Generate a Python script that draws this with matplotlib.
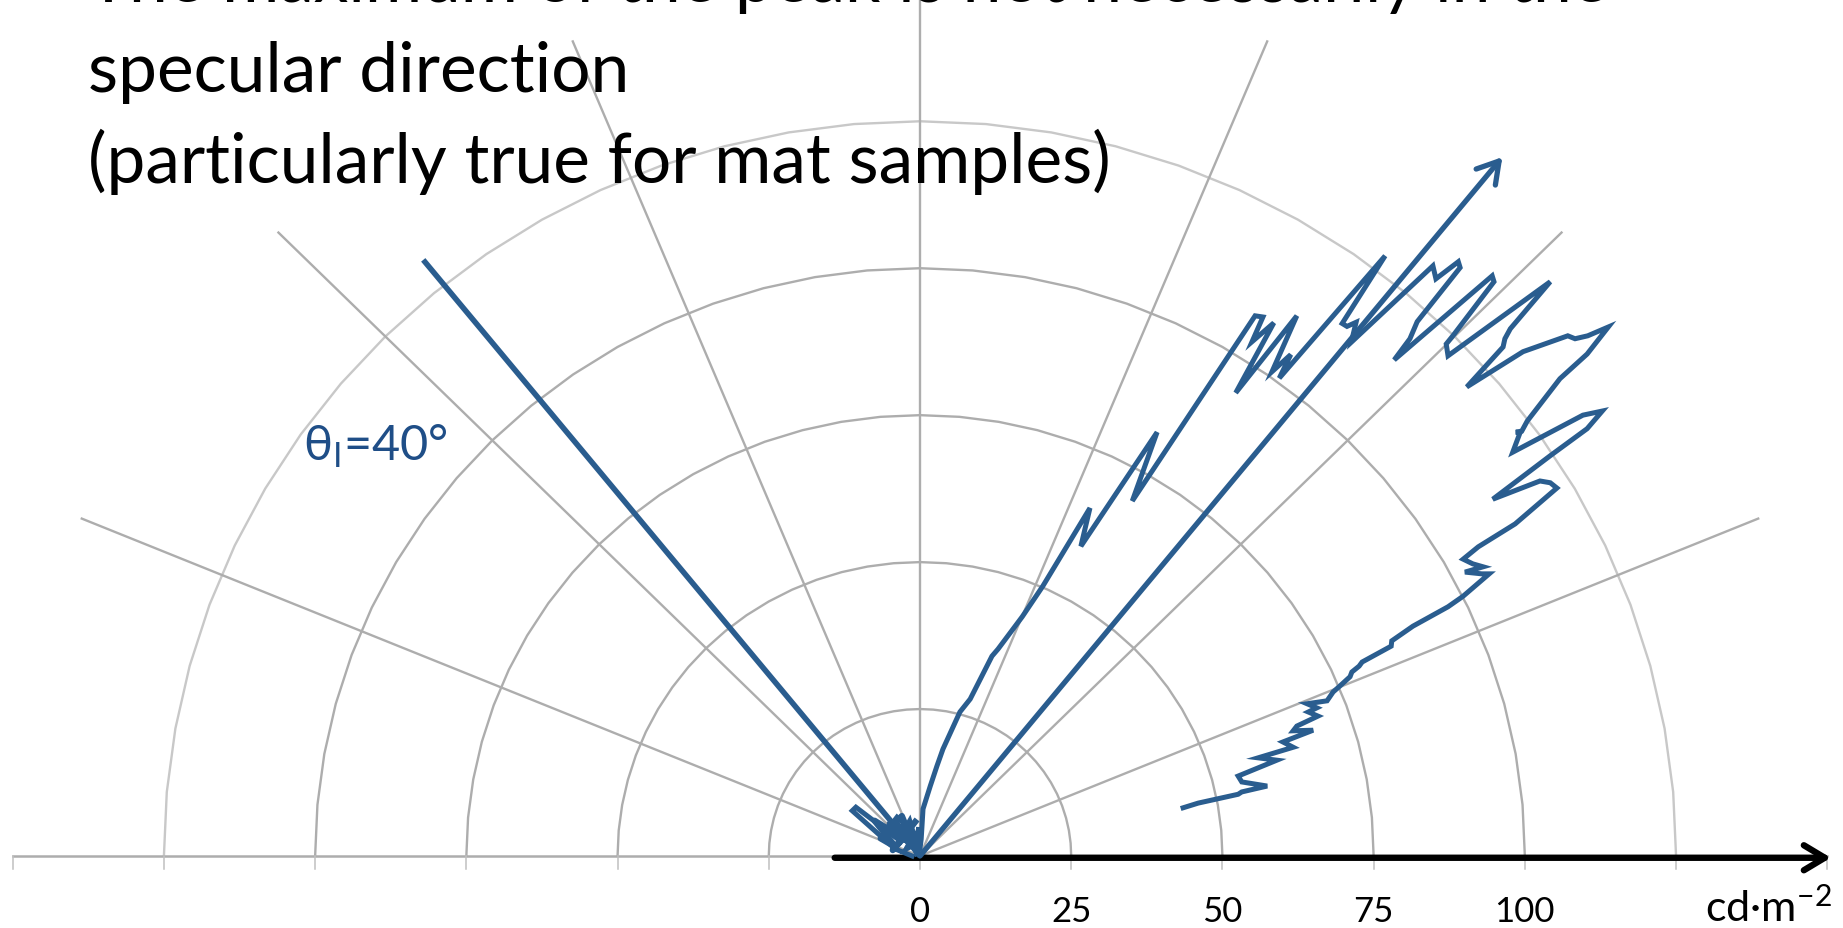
import numpy as np
import matplotlib
matplotlib.use('Agg')
import matplotlib.pyplot as plt

plt.rcParams['font.family'] = ['Lato', 'DejaVu Sans']
plt.rcParams['mathtext.fontset'] = 'dejavusans'
plt.rcParams['mathtext.default'] = 'regular'

# polar grid of the goniometric chart (cd.m-2)
ringValues = [25, 50, 75, 100, 125]
spokeAngles = [22.5, 45, 67.5, 90, 112.5, 135, 157.5]
tickLabels = [0, 25, 50, 75, 100]
axisTicks = np.arange(-150, 151, 25)

incidentAngle = 39      # deg from normal
incidentLength = 130.5
specularAngle = 39
specularLength = 153

# measured luminance, horizontal / vertical components (cd.m-2)
lumX = [-1.3, -4.1, -11.2, -10.6, -3.3, -5.3, -3.8, -2.5, -3.3, -1.7, -1.0, -2.3, -0.7, -0.2, -0.3, 0.0,
        0.2, 0.5, 1.7, 2.8, 3.8, 6.6, 8.3, 11.9, 12.9, 16.9, 20.3, 28.1, 26.6, 39.2, 35.1,
        55.4, 56.7, 54.9, 58.5, 52.2, 62.3, 58.2, 61.3, 59.4, 76.9, 69.8, 70.6, 72.1, 71.3,
        84.8, 85.3, 89.0, 89.3, 82.2, 81.0, 78.4, 94.6, 94.9, 88.1, 87.0, 87.3, 104.2, 97.6, 96.7, 96.4, 90.4,
        99.7, 107.1, 108.3, 110.4, 113.8, 110.3, 105.8, 100.4, 99.5, 98.5, 99.2, 98.0, 109.6, 112.8, 110.3, 104.2, 94.7,
        102.5, 104.2, 105.3, 98.4, 92.3, 89.8, 91.4, 93.1, 90.1, 92.9, 94.1, 89.8, 87.3, 81.5, 78.0, 77.9,
        73.1, 72.6, 71.4, 71.1, 69.4, 68.3, 67.3, 64.0, 65.6, 64.2, 65.8, 62.3, 61.7, 65.0, 60.0, 61.7,
        55.9, 59.0, 52.6, 53.2, 57.4, 53.2, 52.6, 46.0, 43.5]
lumY = [0.0, 1.2, 7.7, 8.3, 2.6, 4.6, 6.6, 5.4, 3.2, 6.0, 3.6, 1.2, 2.0, 4.9, 0.9, 1.2,
        2.9, 8.0, 11.9, 15.3, 18.2, 24.5, 26.7, 34.0, 35.2, 40.7, 45.9, 59.2, 52.7, 72.1, 60.4,
        91.9, 91.7, 87.5, 90.7, 78.8, 91.9, 82.4, 85.3, 81.3, 102.1, 90.6, 90.1, 90.8, 87.4,
        100.4, 98.2, 101.1, 100.1, 90.9, 88.0, 84.4, 98.7, 97.7, 88.5, 87.1, 85.1, 97.7, 89.7, 88.0, 86.6, 79.8,
        85.8, 88.5, 88.0, 88.5, 90.0, 85.4, 81.2, 74.0, 72.3, 72.1, 72.0, 68.7, 75.0, 75.7, 72.7, 68.1, 60.7,
        63.8, 63.5, 62.6, 56.5, 52.6, 50.5, 49.7, 49.2, 48.3, 48.0, 48.0, 44.2, 42.4, 39.1, 36.6, 35.7,
        33.0, 32.3, 31.3, 30.5, 28.9, 27.9, 26.4, 25.9, 25.2, 24.5, 23.8, 22.1, 21.3, 21.4, 19.4, 18.5,
        16.7, 16.3, 13.6, 12.6, 11.9, 10.9, 10.5, 9.0, 8.2]

# back-scatter cluster next to the origin
blobX = [-0.5, -3.0, -6.5, -4.0, -7.5, -2.0, -5.0, -1.5, -4.5, -0.8]
blobY = [0.5, 6.8, 3.0, 1.5, 6.0, 2.5, 5.5, 4.5, 1.0, 5.8]

titleLines = ['The maximum of the peak is not necessarily in the',
              'specular direction',
              '(particularly true for mat samples)']

blue = '#2a5d8f'
grey = '#adadad'

fig = plt.figure(figsize=(18.43, 9.29), dpi=100)
ax = fig.add_axes([0, 0, 1, 1])
ax.set_xlim(-152.1, 152.6)
ax.set_ylim(-12.25, 145.8)
ax.axis('off')

# rings
th = np.radians(np.arange(0, 180.1, 5))
for r in ringValues:
    c = '#c8c8c8' if r == ringValues[-1] else grey
    ax.plot(r * np.cos(th), r * np.sin(th), color=c, lw=1.7, zorder=1)

# spokes
for a in spokeAngles:
    ax.plot([0, 150 * np.cos(np.radians(a))], [0, 150 * np.sin(np.radians(a))],
            color=grey, lw=1.7, zorder=1)

# horizontal axis + ticks
ax.plot([-150, 150], [0, 0], color=grey, lw=1.8, zorder=1)
for t in axisTicks:
    ax.plot([t, t], [0, -2.2], color='#c0c0c0', lw=1.1, zorder=1)
for t in tickLabels:
    ax.text(t, -11.0, str(t), ha='center', va='baseline', fontsize=25, color='black')
ax.text(150.8, -11.0, 'cd·m$^{-2}$', ha='right', va='baseline', fontsize=31, color='black')

ax.annotate('', xy=(150.6, -0.3), xytext=(-14.1, -0.3),
            arrowprops=dict(arrowstyle='->,head_length=0.75,head_width=0.45', lw=4.6,
                            color='black', shrinkA=0, shrinkB=0, mutation_scale=20), zorder=3)

# measured curve
ax.plot(blobX, blobY, color=blue, lw=4.5, zorder=4)
ax.plot(lumX, lumY, color=blue, lw=3.6, zorder=4, solid_joinstyle='miter')

# incident ray
ia = np.radians(incidentAngle)
ax.plot([-incidentLength * np.sin(ia), 0], [incidentLength * np.cos(ia), 0],
        color=blue, lw=4.0, zorder=4, solid_capstyle='butt')

# specular direction
sa = np.radians(specularAngle)
ax.annotate('', xy=(specularLength * np.sin(sa), specularLength * np.cos(sa)), xytext=(0, 0),
            arrowprops=dict(arrowstyle='->,head_length=0.75,head_width=0.45', lw=3.8,
                            color=blue, shrinkA=0, shrinkB=0, mutation_scale=20), zorder=4)

ax.text(-102.0, 67.4, r'$\theta_{I}$=40°', ha='left', va='baseline', fontsize=35, color='#1f4e87')

# title (cropped slide text)
for y, s in zip([0.998, 0.9013, 0.8033], titleLines):
    fig.text(0.0477, y, s, ha='left', va='baseline', fontsize=50, color='black')

plt.savefig('out.png', dpi=100)
plt.close()
